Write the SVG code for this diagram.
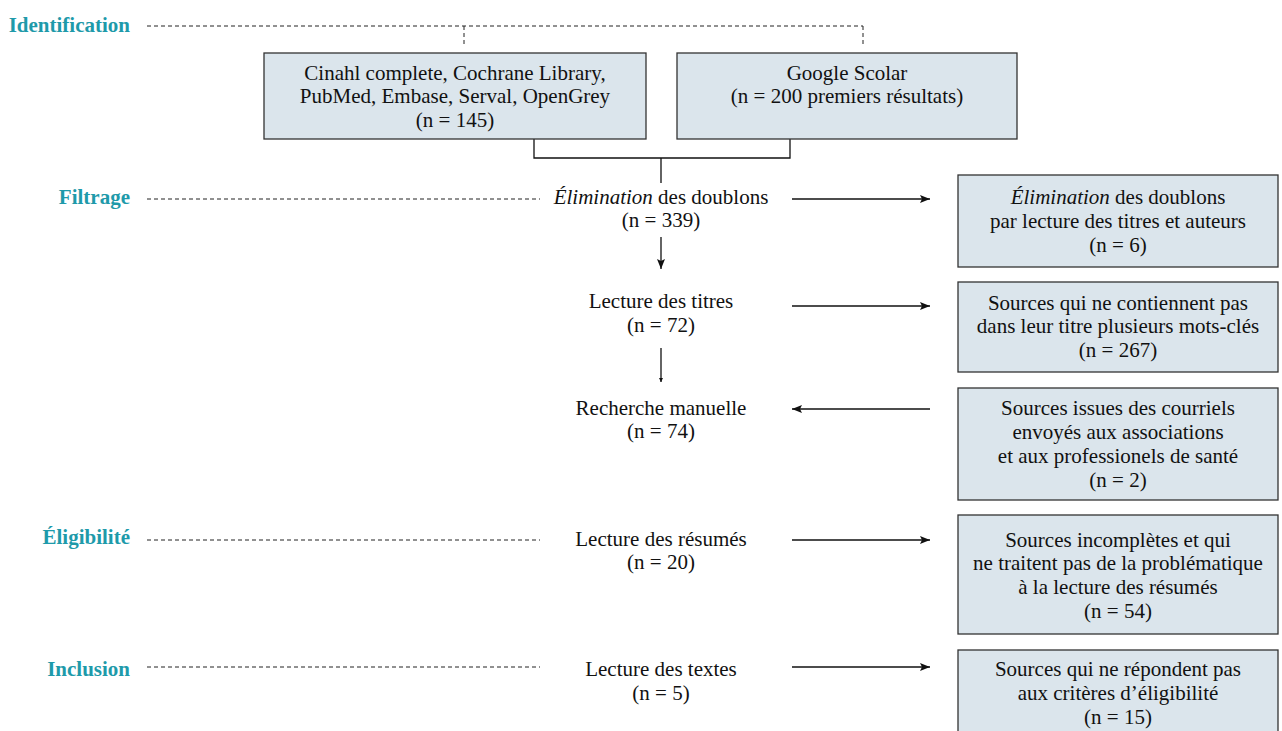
<svg xmlns="http://www.w3.org/2000/svg" width="1282" height="731" viewBox="0 0 1282 731">
<style>
text{font-family:"Liberation Serif","Times New Roman",serif;font-size:21px;fill:#111;text-anchor:middle}
.phase{font-weight:bold;fill:#1e9aaa;text-anchor:end}
.box{fill:#dbe5ec;stroke:#333;stroke-width:1.3}
.dash{fill:none;stroke:#222;stroke-width:1;stroke-dasharray:4 3}
.ln{fill:none;stroke:#111;stroke-width:1.3}
.arr{fill:none;stroke:#111;stroke-width:1.3;marker-end:url(#ah)}
</style>
<defs>
<marker id="ah" viewBox="0 0 10 8" refX="10" refY="4" markerWidth="10" markerHeight="8" markerUnits="userSpaceOnUse" orient="auto"><path d="M0,0 L10,4 L0,8 L2,4 Z" fill="#111"/></marker>
<marker id="ahs" viewBox="0 0 6 6" refX="6" refY="3" markerWidth="4" markerHeight="4" markerUnits="userSpaceOnUse" orient="auto"><path d="M0,0 L6,3 L0,6 Z" fill="#111"/></marker>
</defs>
<g id="phases">
<text class="phase" x="130" y="32">Identification</text>
<text class="phase" x="130" y="204">Filtrage</text>
<text class="phase" x="130" y="544">Éligibilité</text>
<text class="phase" x="130" y="676">Inclusion</text>
</g>
<g id="connectors">
<path class="dash" d="M147,26 H863 M464,26 V47 M863,26 V47"/>
<path class="dash" d="M147,199 H540"/>
<path class="dash" d="M147,540 H540"/>
<path class="dash" d="M147,667 H540"/>
<path class="ln" d="M534,139 V158 H790 V139 M661,158 V183"/>
<path class="arr" d="M661,237 V269"/>
<path class="ln" d="M661,348 V382" marker-end="url(#ahs)"/>
<path class="arr" d="M792,199 H930"/>
<path class="arr" d="M792,306 H930"/>
<path class="arr" d="M930,409 H792"/>
<path class="arr" d="M792,540 H930"/>
<path class="arr" d="M792,667 H930"/>
</g>
<g id="n-databases">
<rect class="box" x="264" y="53" width="382" height="86"/>
<text x="455" y="80">Cinahl complete, Cochrane Library,</text>
<text x="455" y="103">PubMed, Embase, Serval, OpenGrey</text>
<text x="455" y="127">(n = 145)</text>
</g>
<g id="n-google">
<rect class="box" x="677" y="53" width="340" height="86"/>
<text x="847" y="80">Google Scolar</text>
<text x="847" y="103">(n = 200 premiers résultats)</text>
</g>
<g id="n-elimination">
<text x="661" y="204"><tspan font-style="italic">Élimination</tspan> des doublons</text>
<text x="661" y="227">(n = 339)</text>
</g>
<g id="n-titres">
<text x="661" y="308">Lecture des titres</text>
<text x="661" y="332">(n = 72)</text>
</g>
<g id="n-manuelle">
<text x="661" y="415">Recherche manuelle</text>
<text x="661" y="438">(n = 74)</text>
</g>
<g id="n-resumes">
<text x="661" y="546">Lecture des résumés</text>
<text x="661" y="569">(n = 20)</text>
</g>
<g id="n-textes">
<text x="661" y="676">Lecture des textes</text>
<text x="661" y="700">(n = 5)</text>
</g>
<g id="n-excl1">
<rect class="box" x="958" y="175" width="320" height="92"/>
<text x="1118" y="204"><tspan font-style="italic">Élimination</tspan> des doublons</text>
<text x="1118" y="228">par lecture des titres et auteurs</text>
<text x="1118" y="252">(n = 6)</text>
</g>
<g id="n-excl2">
<rect class="box" x="958" y="282" width="320" height="90"/>
<text x="1118" y="310">Sources qui ne contiennent pas</text>
<text x="1118" y="333">dans leur titre plusieurs mots-clés</text>
<text x="1118" y="357">(n = 267)</text>
</g>
<g id="n-courriels">
<rect class="box" x="958" y="388" width="320" height="112"/>
<text x="1118" y="415">Sources issues des courriels</text>
<text x="1118" y="439">envoyés aux associations</text>
<text x="1118" y="463">et aux professionels de santé</text>
<text x="1118" y="487">(n = 2)</text>
</g>
<g id="n-excl3">
<rect class="box" x="958" y="515" width="320" height="119"/>
<text x="1118" y="547">Sources incomplètes et qui</text>
<text x="1118" y="570">ne traitent pas de la problématique</text>
<text x="1118" y="594">à la lecture des résumés</text>
<text x="1118" y="618">(n = 54)</text>
</g>
<g id="n-excl4">
<rect class="box" x="958" y="650" width="320" height="90"/>
<text x="1118" y="676">Sources qui ne répondent pas</text>
<text x="1118" y="700">aux critères d’éligibilité</text>
<text x="1118" y="724">(n = 15)</text>
</g>
</svg>
